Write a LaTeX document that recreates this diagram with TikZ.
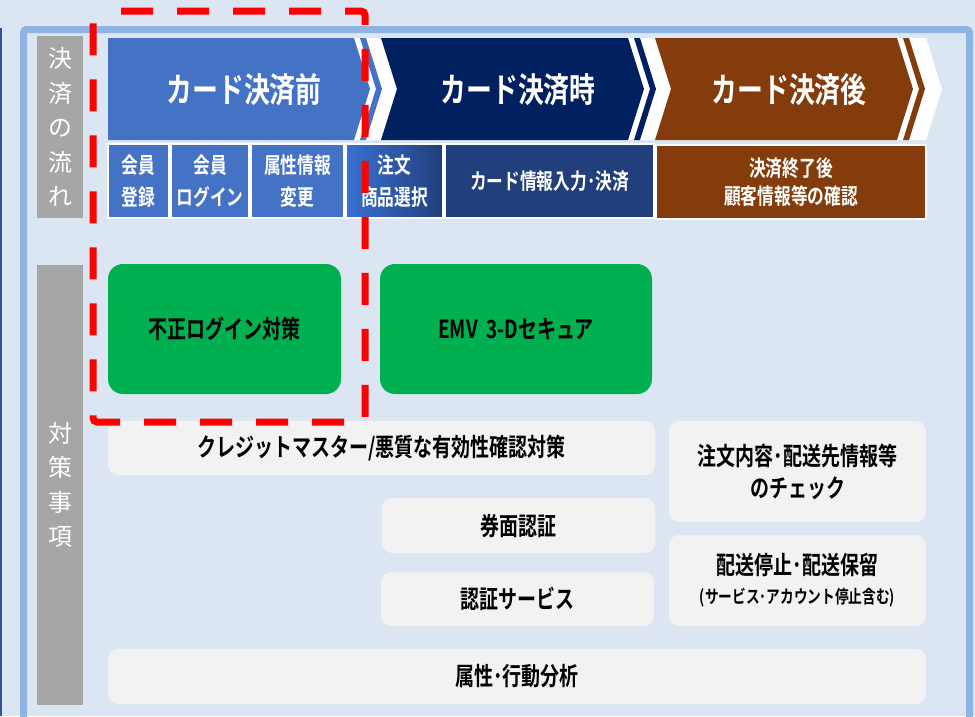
\documentclass[tikz,border=0pt]{standalone}
\usepackage{fontspec}
\newfontfamily\jpr{Noto Sans CJK JP}
\newfontfamily\jpb{Noto Sans CJK JP Bold}[FakeStretch=0.76]
\newcommand\jfs[2]{\fontsize{#1}{#2}\selectfont}
\definecolor{bgblue}{HTML}{DCE6F2}
\definecolor{framecol}{HTML}{8FB4E3}
\definecolor{darkline}{HTML}{2F5597}
\definecolor{phaseA}{HTML}{4472C4}
\definecolor{phaseAbright}{HTML}{3A70D2}
\definecolor{phaseB}{HTML}{002060}
\definecolor{phaseBsub}{HTML}{213F7A}
\definecolor{phaseC}{HTML}{843C0C}
\definecolor{labelgray}{HTML}{A6A6A6}
\definecolor{okgreen}{HTML}{00B050}
\definecolor{boxgray}{HTML}{F2F2F2}
\definecolor{dashred}{HTML}{FF0000}
\begin{document}
\begin{tikzpicture}[x=1pt,y=-1pt,
  sub/.style={draw=white, line width=1.2pt, text=white, align=center, inner sep=0pt, font=\jpb\jfs{22}{32}},
  lbl/.style={fill=labelgray, text=white, align=center, inner sep=0pt, font=\jpr\jfs{24}{34.5}},
  gbtn/.style={fill=okgreen, rounded corners=15pt, inner sep=0pt, font=\jpb\jfs{25}{28}, text=black},
  gbox/.style={fill=boxgray, rounded corners=10pt, inner sep=0pt, align=center, font=\jpb\jfs{25}{32}, text=black},
  phasetxt/.style={text=white, font=\jpb\jfs{34}{36}, inner sep=0pt},
]
\useasboundingbox (0,0) rectangle (975,716);
\clip (0,0) rectangle (975,716);
\fill[bgblue] (0,0) rectangle (975,716);
\fill[darkline] (0,28) rectangle (2,716);
\draw[framecol, line width=7pt, rounded corners=3pt] (23.5,760) -- (23.5,29.5) -- (969.5,29.5) -- (969.5,760);

% chevron band
\fill[white] (108,38) -- (926,38) -- (942,89) -- (926,140) -- (108,140) -- cycle;
\fill[phaseA] (108,38) -- (354,38) -- (370,89) -- (354,140) -- (108,140) -- cycle;
\fill[phaseA] (360,38) -- (366,38) -- (382,89) -- (366,140) -- (360,140) -- (376,89) -- cycle;
\fill[phaseB] (381,38) -- (628,38) -- (644,89) -- (628,140) -- (381,140) -- (397,89) -- cycle;
\fill[phaseB] (634,38) -- (640,38) -- (656,89) -- (640,140) -- (634,140) -- (650,89) -- cycle;
\fill[phaseC] (655,38) -- (897,38) -- (913,89) -- (897,140) -- (655,140) -- (671,89) -- cycle;
\fill[phaseC] (903,38) -- (909,38) -- (925,89) -- (909,140) -- (903,140) -- (919,89) -- cycle;
\node[phasetxt] (p1) at (244,90) {カード決済前};
\node[phasetxt] (p2) at (518,90) {カード決済時};
\node[phasetxt] (p3) at (789,90) {カード決済後};

% sub steps
\node[sub, fill=phaseA, minimum width=61pt, minimum height=74pt] (s1) at (138.5,181) {会員\\登録};
\node[sub, fill=phaseA, minimum width=78pt, minimum height=74pt] (s2) at (210,181) {会員\\ログイン};
\node[sub, fill=phaseA, minimum width=93pt, minimum height=74pt] (s3) at (297.5,181) {属性情報\\変更};
\node[sub, left color=phaseAbright, right color=phaseBsub, minimum width=97pt, minimum height=74pt] (s4) at (394.5,181) {注文\\商品選択};
\node[sub, fill=phaseBsub, minimum width=209pt, minimum height=74pt] (s5) at (549.5,181) {カード情報入力･決済};
\node[sub, fill=phaseC, minimum width=270pt, minimum height=74pt, font=\jpb\jfs{22}{28}] (s6) at (791,182) {決済終了後\\顧客情報等の確認};

% side labels
\node[lbl, minimum width=46pt, minimum height=182pt] (l1) at (60,127) {決\\済\\の\\流\\れ};
\node[lbl, minimum width=46pt, minimum height=440pt] (l2) at (60,485) {対\\策\\事\\項};

% green measures
\node[gbtn, minimum width=233pt, minimum height=130pt] (g1) at (224.5,329) {不正ログイン対策};
\node[gbtn, minimum width=272pt, minimum height=130pt] (g2) at (516,329) {EMV\,\,3-Dセキュア};

% gray measures
\node[gbox, minimum width=547pt, minimum height=54pt] (c1) at (381.5,448) {クレジットマスター/悪質な有効性確認対策};
\node[gbox, minimum width=273pt, minimum height=55pt] (c2) at (518.5,525.5) {券面認証};
\node[gbox, minimum width=273pt, minimum height=54pt] (c3) at (517.5,599) {認証サービス};
\node[gbox, minimum width=257pt, minimum height=101pt] (c4) at (797.5,471.5) {注文内容･配送先情報等\\のチェック};
\node[gbox, minimum width=257pt, minimum height=91pt] (c5) at (797.5,580.5) {配送停止･配送保留\\[-3pt]{\jfs{18}{20}(サービス･アカウント停止含む)}};
\node[gbox, minimum width=818pt, minimum height=55pt] (c6) at (517,676.5) {属性･行動分析};

% red dashed highlight
\draw[dashred, line width=7pt, dash pattern=on 32pt off 24pt, dash phase=32pt, rounded corners=4pt] (93,11) -- (365,11) -- (365,422) -- (93,422) -- cycle;
\end{tikzpicture}
\end{document}
